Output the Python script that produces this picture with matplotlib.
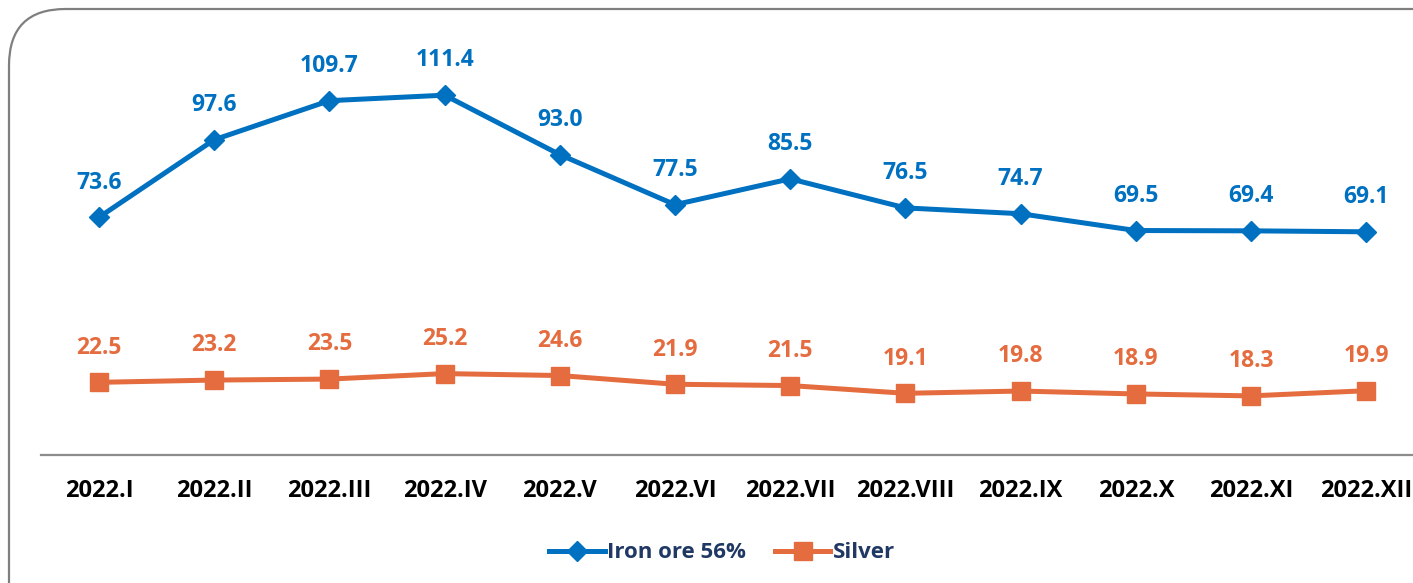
import matplotlib
matplotlib.use('Agg')
from matplotlib import pyplot as plt
from matplotlib.patches import FancyBboxPatch

months = ['2022.I', '2022.II', '2022.III', '2022.IV', '2022.V', '2022.VI',
          '2022.VII', '2022.VIII', '2022.IX', '2022.X', '2022.XI', '2022.XII']
iron_ore = [73.6, 97.6, 109.7, 111.4, 93.0, 77.5, 85.5, 76.5, 74.7, 69.5, 69.4, 69.1]
silver = [22.5, 23.2, 23.5, 25.2, 24.6, 21.9, 21.5, 19.1, 19.8, 18.9, 18.3, 19.9]

blue = '#0070C0'
orange = '#E46C3E'
plt.rcParams['font.family'] = ['Open Sans', 'DejaVu Sans']

W, H = 1413, 583
fig = plt.figure(figsize=(W / 100, H / 100), dpi=100)

# rounded frame, cut off on the right and bottom like the original
frame = FancyBboxPatch((9 / W, -0.2), 1.2, 1 - 9 / H + 0.2,
                       boxstyle='round,pad=0,rounding_size=0.04',
                       transform=fig.transFigure, fill=False,
                       edgecolor='#7f7f7f', linewidth=1.6,
                       mutation_aspect=W / H)
fig.patches.append(frame)

# axes in pixel units: first point x=99, step 115.2, zero at y=455
left = (99 - 57.6) / W
width = 115.2 * 12 / W
bottom = (H - 455) / H
ymax = 120
height = ymax * 3.23 / H
ax = fig.add_axes([left, bottom, width, height])

x = list(range(len(months)))
ax.plot(x, iron_ore, color=blue, lw=3.6, marker='D', ms=10, label='Iron ore 56%')
ax.plot(x, silver, color=orange, lw=3.6, marker='s', ms=13, label='Silver')

for i, v in enumerate(iron_ore):
    ax.annotate(f'{v:.1f}', (i, v), xytext=(0, 25), textcoords='offset points',
                ha='center', va='center', color=blue, fontsize=16.5, fontweight='bold')
for i, v in enumerate(silver):
    ax.annotate(f'{v:.1f}', (i, v), xytext=(0, 25), textcoords='offset points',
                ha='center', va='center', color=orange, fontsize=16.5, fontweight='bold')

ax.set_xlim(-0.5, 11.5)
ax.set_ylim(0, ymax)
ax.set_xticks(x)
ax.set_xticklabels(months, fontsize=17, fontweight='bold', color='black')
ax.tick_params(axis='x', length=0, pad=17)
ax.set_yticks([])
for s in ['top', 'left', 'right']:
    ax.spines[s].set_visible(False)
ax.spines['bottom'].set_color('#8c8c8c')
ax.spines['bottom'].set_linewidth(1.6)
ax.patch.set_alpha(0)

leg = fig.legend(loc='center', bbox_to_anchor=(0.511, 1 - 553 / H), ncol=2,
                 frameon=False, handlelength=2.5, handletextpad=0.1,
                 columnspacing=1.3, prop={'size': 16, 'weight': 'bold'})
for t in leg.get_texts():
    t.set_color('#1F3864')

fig.savefig('out.png', dpi=100)
